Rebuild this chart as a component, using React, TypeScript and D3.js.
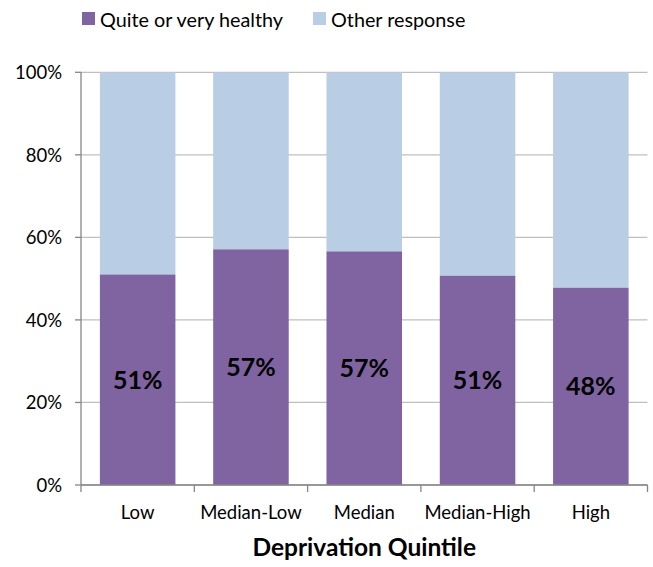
import React from "react";
import * as d3 from "d3";

const categories = ["Low", "Median-Low", "Median", "Median-High", "High"];
const healthy = [51.0, 57.1, 56.6, 50.7, 47.8];
const seriesNames = ["Quite or very healthy", "Other response"];
const yTicks = [0, 20, 40, 60, 80, 100];
const colors = ["#8064A2", "#B9CDE5"];
const FONT = "Lato, 'Open Sans', sans-serif";

export default function App() {
  const W = 653, H = 567;
  const x0 = 81, x1 = 647.5, yTop = 72.3, yBot = 485;
  const x = d3.scaleBand<string>().domain(categories).range([x0, x1]).paddingInner(1 / 3).paddingOuter(1 / 6);
  const y = d3.scaleLinear().domain([0, 100]).range([yBot, yTop]);
  const edges = categories.map((_, i) => x0 + (i * (x1 - x0)) / categories.length).concat([x1]);
  return (
    <svg width={W} height={H} style={{ position: "absolute", left: 0, top: 0, background: "#fff" }} fontFamily={FONT}>
      {yTicks.map((t) => (
        <line key={"g" + t} x1={x0} x2={x1} y1={y(t)} y2={y(t)} stroke="#BFBFBF" strokeWidth={1.3} />
      ))}
      {categories.map((c, i) => (
        <g key={c}>
          <rect x={x(c)} width={x.bandwidth()} y={y(100)} height={y(healthy[i]) - y(100)} fill={colors[1]} />
          <rect x={x(c)} width={x.bandwidth()} y={y(healthy[i])} height={y(0) - y(healthy[i])} fill={colors[0]} />
          <text x={(x(c) as number) + x.bandwidth() / 2} y={(y(0) + y(healthy[i])) / 2} dy="0.36em" textAnchor="middle" fontWeight="bold" fontSize={25} fill="#000">
            {d3.format(".0f")(healthy[i]) + "%"}
          </text>
        </g>
      ))}
      <line x1={x0} x2={x0} y1={yTop} y2={yBot} stroke="#868686" strokeWidth={1.3} />
      {yTicks.map((t) => (
        <g key={"y" + t}>
          <line x1={x0 - 6} x2={x0} y1={y(t)} y2={y(t)} stroke="#868686" strokeWidth={1.3} />
          <text x={62} y={y(t)} dy="0.36em" textAnchor="end" fontSize={18.5} fill="#000">{t + "%"}</text>
        </g>
      ))}
      <line x1={x0} x2={x1} y1={yBot} y2={yBot} stroke="#868686" strokeWidth={1.3} />
      {edges.map((e, i) => (
        <line key={"xt" + i} x1={e} x2={e} y1={yBot} y2={yBot + 7} stroke="#868686" strokeWidth={1.3} />
      ))}
      {categories.map((c) => (
        <text key={"xl" + c} x={(x(c) as number) + x.bandwidth() / 2} y={519} textAnchor="middle" fontSize={18.5} fill="#000">{c}</text>
      ))}
      <text x={(x0 + x1) / 2} y={556} textAnchor="middle" fontWeight="bold" fontSize={24.5} fill="#000">Deprivation Quintile</text>
      <rect x={82} y={12} width={13} height={13} fill={colors[0]} />
      <text x={100} y={26.5} fontSize={19.8} fill="#000">{seriesNames[0]}</text>
      <rect x={313} y={12} width={13} height={13} fill={colors[1]} />
      <text x={331} y={26.5} fontSize={19.8} fill="#000">{seriesNames[1]}</text>
    </svg>
  );
}
